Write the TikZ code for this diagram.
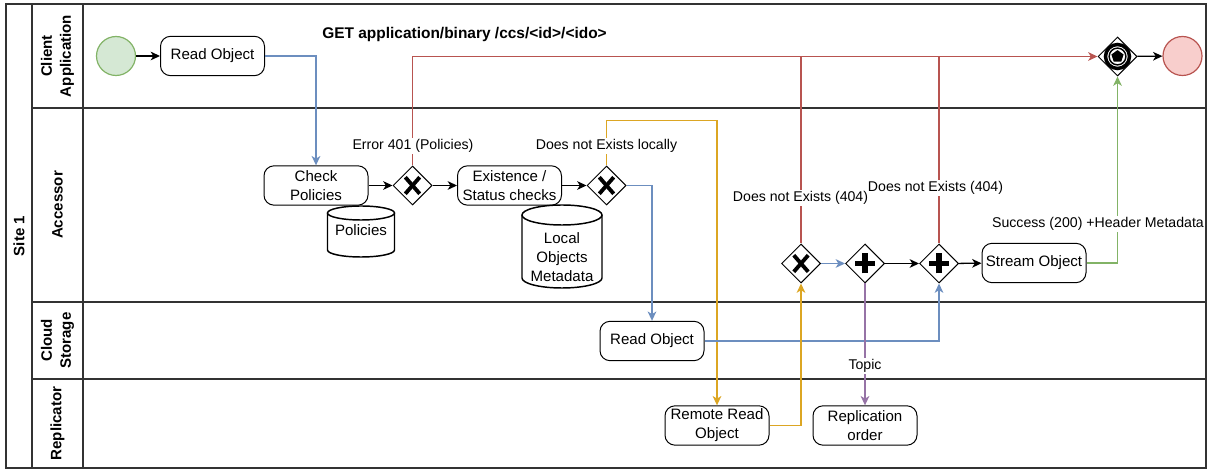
\documentclass[tikz,border=0pt]{standalone}
\usepackage{fontspec}
\setmainfont{Liberation Sans}
\usetikzlibrary{shapes.geometric,arrows.meta}
\definecolor{cblue}{HTML}{6C8EBF}
\definecolor{cred}{HTML}{B85450}
\definecolor{cyel}{HTML}{DCA623}
\definecolor{cgreen}{HTML}{82B366}
\definecolor{cpurple}{HTML}{9673A6}
\definecolor{startfill}{HTML}{D5E8D4}
\definecolor{endfill}{HTML}{F8CECC}
\definecolor{lanec}{HTML}{333333}
\newcommand\nodefnt{\fontsize{11.3}{14.2}\selectfont}
\newcommand\lblfnt{\fontsize{10.6}{13}\selectfont}
\begin{document}
\begin{tikzpicture}[x=0.75pt,y=-0.75pt,
  lane/.style={draw=lanec, line width=0.9pt},
  lanelbl/.style={rotate=90, font=\nodefnt\bfseries, align=center, inner sep=0pt},
  task/.style={draw, rounded corners=7.5pt, minimum width=78pt, minimum height=29.5pt, align=center, inner sep=1pt, font=\nodefnt, line width=0.75pt, fill=white},
  gw/.style={diamond, draw, minimum size=29.25pt, inner sep=0pt, line width=0.75pt, fill=white},
  xgw/.style={gw, path picture={
     \draw[line width=2.9pt] (path picture bounding box.center) ++(-5.4pt,-6.2pt) -- ++(10.8pt,12.4pt);
     \draw[line width=2.9pt] (path picture bounding box.center) ++(-5.4pt,6.2pt) -- ++(10.8pt,-12.4pt);}},
  pgw/.style={gw, path picture={
     \draw[line width=3.8pt] (path picture bounding box.center) ++(-7.5pt,0) -- ++(15pt,0);
     \draw[line width=3.8pt] (path picture bounding box.center) ++(0,-7.5pt) -- ++(0,15pt);}},
  egw/.style={gw, path picture={
     \draw[line width=2.6pt] (path picture bounding box.center) circle (9pt);
     \draw[line width=1.1pt] (path picture bounding box.center) circle (6.3pt);
     \node[regular polygon, regular polygon sides=5, fill=black, minimum size=9.6pt, inner sep=0pt] at (path picture bounding box.center) {};}},
  evt/.style={circle, minimum size=29.25pt, inner sep=0pt, line width=0.9pt},
  flow/.style={-{Stealth[length=7pt,width=6.5pt,inset=2pt]}, line width=0.95pt},
  line/.style={line width=0.95pt},
  lbl/.style={font=\lblfnt, fill=white, inner sep=1pt},
  cyl/.style={draw, fill=white, line width=1.1pt}
]
\useasboundingbox (0,0) rectangle (1208,470);

% pool and lanes
\draw[lane] (6,4) rectangle (1206,468);
\draw[lane] (32,4) -- (32,468);
\draw[lane] (83,4) -- (83,468);
\draw[lane] (32,108) -- (1206,108);
\draw[lane] (32,302) -- (1206,302);
\draw[lane] (32,379) -- (1206,379);
\node[lanelbl] (site) at (19,236) {Site 1};
\node[lanelbl] (lc) at (57.5,56) {Client\\Application};
\node[lanelbl] (la) at (57.5,205) {Accessor};
\node[lanelbl] (lcs) at (57.5,340.5) {Cloud\\Storage};
\node[lanelbl] (lr) at (57.5,423.5) {Replicator};

% title
\node[font=\fontsize{11.6}{14}\selectfont\bfseries] (title) at (464.5,35) {GET application/binary /ccs/<id>/<ido>};

% nodes
\node[evt, draw=cgreen, fill=startfill] (start) at (116,56) {};
\node[task] (ro1) at (212.5,56) {Read Object};
\node[task] (cp) at (316,185.5) {Check\\Policies};
\node[xgw] (x1) at (412.5,185.5) {};
\node[task] (ex) at (509.5,185.5) {Existence /\\Status checks};
\node[xgw] (x2) at (606.5,185.5) {};
\node[task] (ro2) at (652,341) {Read Object};
\node[task] (rr) at (717,425.5) {Remote Read\\Object};
\node[task] (repl) at (865,425.5) {Replication\\order};
\node[xgw] (x3) at (801,263.5) {};
\node[pgw] (p1) at (865,263.5) {};
\node[pgw] (p2) at (939,263.5) {};
\node[task] (so) at (1034,263) {Stream Object};
\node[egw] (eg) at (1117.5,56.5) {};
\node[evt, draw=cred, fill=endfill] (endc) at (1182.5,56) {};

% cylinders
\draw[cyl] (327.5,213) -- (327.5,250)
  .. controls (327.5,253.9) and (342.5,257) .. (361,257)
  .. controls (379.5,257) and (394.5,253.9) .. (394.5,250) -- (394.5,213);
\draw[cyl] (361,213) ellipse [x radius=33.5, y radius=7];
\node[font=\nodefnt, inner sep=0pt] (pol) at (361,230) {Policies};
\draw[cyl] (522,215) -- (522,278)
  .. controls (522,283.5) and (540,288) .. (562,288)
  .. controls (584,288) and (602,283.5) .. (602,278) -- (602,215);
\draw[cyl] (562,215) ellipse [x radius=40, y radius=10];
\node[font=\nodefnt, align=center, inner sep=0pt] (lom) at (562,257) {Local\\Objects\\Metadata};

% connectors
\draw[flow] (start) -- (ro1);
\draw[line, draw=cblue, -{Stealth[length=7pt,width=6.5pt,inset=2pt]}] (ro1.east) -| (cp.north);
\draw[flow] (cp) -- (x1);
\draw[flow] (x1) -- (ex);
\draw[flow] (ex) -- (x2);
\draw[line, draw=cred, -{Stealth[length=7pt,width=6.5pt,inset=2pt]}] (x1.north) |- (eg.west);
\draw[line, draw=cred] (x3.north) -- (x3.north |- eg.west);
\draw[line, draw=cred] (p2.north) -- (p2.north |- eg.west);
\draw[line, draw=cyel, -{Stealth[length=7pt,width=6.5pt,inset=2pt]}] (x2.north) -- ++(0,-45) -| (rr.north);
\draw[line, draw=cblue, -{Stealth[length=7pt,width=6.5pt,inset=2pt]}] (x2.east) -| (ro2.north);
\draw[line, draw=cblue, -{Stealth[length=7pt,width=6.5pt,inset=2pt]}] (ro2.east) -| (p2.south);
\draw[line, draw=cyel, -{Stealth[length=7pt,width=6.5pt,inset=2pt]}] (rr.east) -| (x3.south);
\draw[line, draw=cblue, -{Stealth[length=7pt,width=6.5pt,inset=2pt]}] (x3) -- (p1);
\draw[flow] (p1) -- (p2);
\draw[flow] (p2) -- (so);
\draw[line, draw=cpurple, -{Stealth[length=7pt,width=6.5pt,inset=2pt]}] (p1.south) -- (repl.north);
\draw[line, draw=cgreen, -{Stealth[length=7pt,width=6.5pt,inset=2pt]}] (so.east) -| (eg.south);
\draw[flow] (eg) -- (endc);

% labels
\node[lbl] (l1) at (413,146) {Error 401 (Policies)};
\node[lbl] (l2) at (606.5,146) {Does not Exists locally};
\node[lbl] (l3) at (800.5,198) {Does not Exists (404)};
\node[lbl] (l4) at (935.5,188) {Does not Exists (404)};
\node[lbl] (l5) at (1098,224) {Success (200) +Header Metadata};
\node[lbl] (l6) at (865,366) {Topic};
\end{tikzpicture}
\end{document}
